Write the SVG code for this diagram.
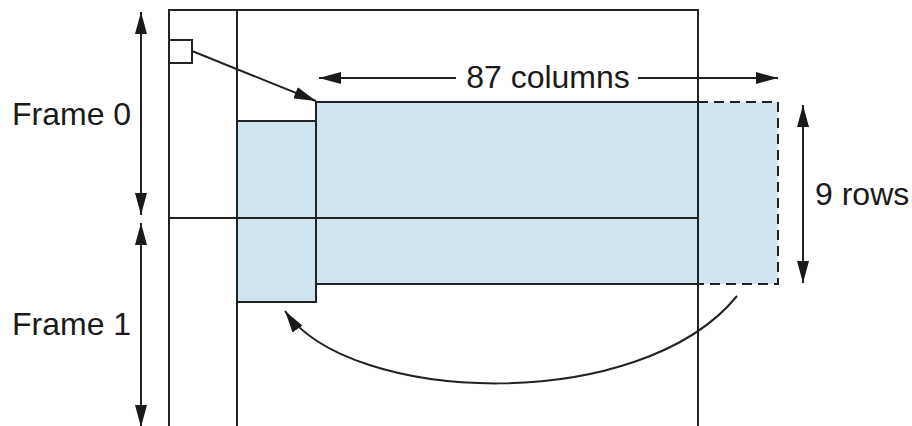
<svg xmlns="http://www.w3.org/2000/svg" width="912" height="426" viewBox="0 0 912 426">
<style>
.ln{stroke:#222;stroke-width:2;fill:none}
.blue{fill:#cfe4ef;stroke:#222;stroke-width:2}
.dash{fill:#cfe4ef;stroke:none}
.dl{stroke:#222;stroke-width:2;fill:none;stroke-dasharray:10 6}
.t{font-family:"Liberation Sans",Arial,sans-serif;font-size:32px;fill:#1a1a1a}
</style>
<defs>
<marker id="ah" markerWidth="24" markerHeight="12" refX="22" refY="6" orient="auto" markerUnits="userSpaceOnUse">
<path d="M0,0 L22,6 L0,12 z" fill="#1a1a1a"/>
</marker>
</defs>
<rect width="912" height="426" fill="#fff"/>
<g id="blue-region">
<rect class="dash" x="698" y="102" width="80" height="182"/>
<path class="dl" d="M698,102 H778 V284 H698"/>
<rect class="blue" x="316" y="102" width="382" height="182"/>
<rect class="blue" x="237" y="121" width="79" height="181"/>
</g>
<g id="frame">
<path class="ln" d="M169,426 V10 H698 V426"/>
<path class="ln" d="M237,10 V426"/>
<path class="ln" d="M169,218 H698"/>
<rect class="ln" x="169" y="40" width="23" height="23"/>
</g>
<g id="connectors">
<line class="ln" x1="192" y1="51" x2="316" y2="101" marker-end="url(#ah)"/>
<path class="ln" d="M737,296 C640,415 350,405 285,311" marker-end="url(#ah)"/>
<line class="ln" x1="456" y1="78" x2="319" y2="78" marker-end="url(#ah)"/>
<line class="ln" x1="638" y1="78" x2="778" y2="78" marker-end="url(#ah)"/>
<line class="ln" x1="803" y1="194" x2="803" y2="105" marker-end="url(#ah)"/>
<line class="ln" x1="803" y1="194" x2="803" y2="283" marker-end="url(#ah)"/>
<line class="ln" x1="141" y1="114" x2="141" y2="12" marker-end="url(#ah)"/>
<line class="ln" x1="141" y1="114" x2="141" y2="215" marker-end="url(#ah)"/>
<line class="ln" x1="141" y1="325" x2="141" y2="223" marker-end="url(#ah)"/>
<line class="ln" x1="141" y1="325" x2="141" y2="427" marker-end="url(#ah)"/>
</g>
<g id="labels">
<text class="t" x="12" y="125">Frame 0</text>
<text class="t" x="12" y="335">Frame 1</text>
<text class="t" x="548" y="88" text-anchor="middle">87 columns</text>
<text class="t" x="815" y="205">9 rows</text>
</g>
</svg>
